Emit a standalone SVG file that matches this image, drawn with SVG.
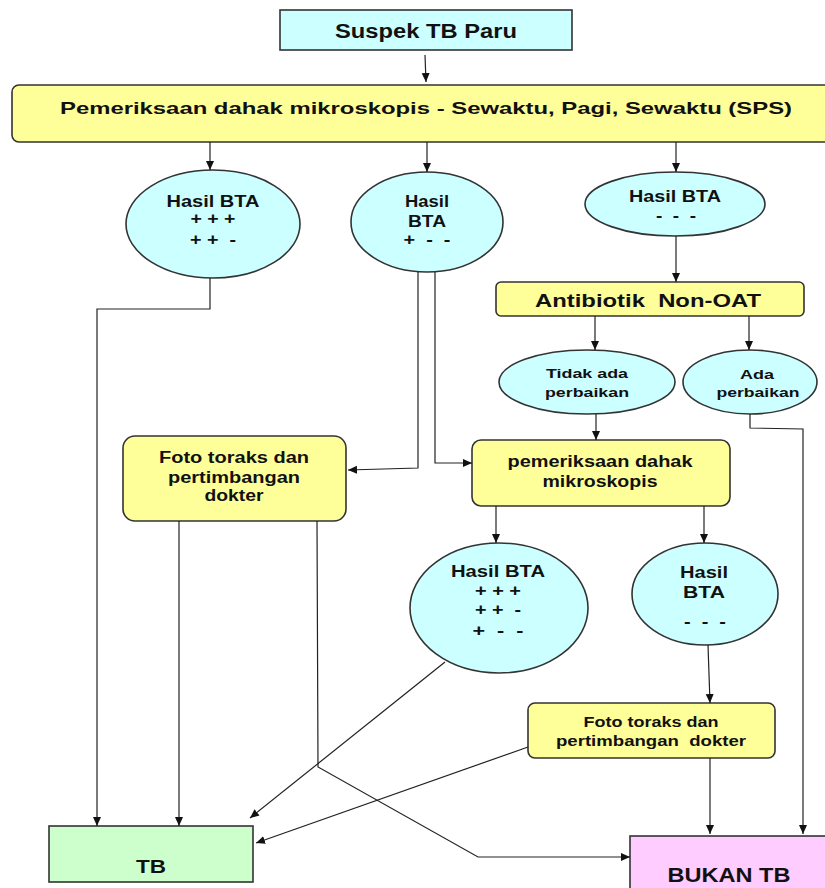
<svg xmlns="http://www.w3.org/2000/svg" width="825" height="888" viewBox="0 0 825 888">
<style>
  text { font-family: "Liberation Sans", Arial, sans-serif; font-weight: bold; fill: #111; text-anchor: middle; white-space: pre; }
  .box { stroke: #333; stroke-width: 1.6; }
  .cyan { fill: #ccffff; }
  .yellow { fill: #ffff99; }
  .green { fill: #ccffcc; }
  .pink { fill: #ffccff; }
  .conn { fill: none; stroke: #222; stroke-width: 1.2; }
</style>
<defs>
  <marker id="arr" markerWidth="10" markerHeight="10" refX="9" refY="5" orient="auto" markerUnits="userSpaceOnUse">
    <path d="M0,1 L9,5 L0,9 z" fill="#111"/>
  </marker>
</defs>
<rect width="825" height="888" fill="#ffffff"/>

<g id="suspek">
  <rect class="box cyan" x="280" y="10" width="292" height="40"/>
  <text x="426" y="38" font-size="20" textLength="182" lengthAdjust="spacingAndGlyphs">Suspek TB Paru</text>
</g>
<g id="pemeriksaan-sps">
  <rect class="box yellow" x="12" y="85" width="830" height="57" rx="7"/>
  <text x="426" y="114" font-size="17" textLength="732" lengthAdjust="spacingAndGlyphs">Pemeriksaan dahak mikroskopis - Sewaktu, Pagi, Sewaktu (SPS)</text>
</g>
<g id="hasil-1">
  <ellipse class="box cyan" cx="213" cy="224" rx="87" ry="54"/>
  <text x="213" y="207" font-size="16" textLength="93" lengthAdjust="spacingAndGlyphs">Hasil BTA</text>
  <text x="213" y="224" font-size="16" textLength="45" lengthAdjust="spacingAndGlyphs">+ + +</text>
  <text x="213" y="245" font-size="16" textLength="46" lengthAdjust="spacingAndGlyphs">+ +  -</text>
</g>
<g id="hasil-2">
  <ellipse class="box cyan" cx="427" cy="222" rx="76" ry="50"/>
  <text x="427" y="207" font-size="16" textLength="44" lengthAdjust="spacingAndGlyphs">Hasil</text>
  <text x="427" y="227" font-size="16" textLength="38" lengthAdjust="spacingAndGlyphs">BTA</text>
  <text x="427" y="245" font-size="16" textLength="47" lengthAdjust="spacingAndGlyphs">+  -  -</text>
</g>
<g id="hasil-3">
  <ellipse class="box cyan" cx="675" cy="204" rx="90" ry="32"/>
  <text x="675" y="202" font-size="16" textLength="92" lengthAdjust="spacingAndGlyphs">Hasil BTA</text>
  <text x="676" y="221" font-size="16" textLength="40" lengthAdjust="spacingAndGlyphs">-  -  -</text>
</g>
<g id="antibiotik">
  <rect class="box yellow" x="496" y="282" width="308" height="34" rx="5"/>
  <text x="648" y="307" font-size="19" textLength="226" lengthAdjust="spacingAndGlyphs">Antibiotik  Non-OAT</text>
</g>
<g id="tidak-ada">
  <ellipse class="box cyan" cx="587" cy="382" rx="88" ry="32"/>
  <text x="587" y="378" font-size="13" textLength="82" lengthAdjust="spacingAndGlyphs">Tidak ada</text>
  <text x="587" y="397" font-size="13" textLength="84" lengthAdjust="spacingAndGlyphs">perbaikan</text>
</g>
<g id="ada">
  <ellipse class="box cyan" cx="750" cy="382" rx="67" ry="32"/>
  <text x="757" y="379" font-size="13" textLength="34" lengthAdjust="spacingAndGlyphs">Ada</text>
  <text x="758" y="397" font-size="13" textLength="83" lengthAdjust="spacingAndGlyphs">perbaikan</text>
</g>
<g id="foto-1">
  <rect class="box yellow" x="123" y="436" width="223" height="85" rx="12"/>
  <text x="234" y="463" font-size="16" textLength="150" lengthAdjust="spacingAndGlyphs">Foto toraks dan</text>
  <text x="234" y="483" font-size="16" textLength="132" lengthAdjust="spacingAndGlyphs">pertimbangan</text>
  <text x="234" y="501" font-size="16" textLength="59" lengthAdjust="spacingAndGlyphs">dokter</text>
</g>
<g id="pemeriksaan-2">
  <rect class="box yellow" x="472" y="440" width="258" height="66" rx="9"/>
  <text x="600" y="467" font-size="17" textLength="185" lengthAdjust="spacingAndGlyphs">pemeriksaan dahak</text>
  <text x="600" y="487" font-size="17" textLength="115" lengthAdjust="spacingAndGlyphs">mikroskopis</text>
</g>
<g id="hasil-4">
  <ellipse class="box cyan" cx="499" cy="608" rx="89" ry="65"/>
  <text x="498" y="577" font-size="16" textLength="94" lengthAdjust="spacingAndGlyphs">Hasil BTA</text>
  <text x="498" y="596" font-size="16" textLength="46" lengthAdjust="spacingAndGlyphs">+ + +</text>
  <text x="498" y="615" font-size="16" textLength="46" lengthAdjust="spacingAndGlyphs">+ +  -</text>
  <text x="498" y="636" font-size="16" textLength="51" lengthAdjust="spacingAndGlyphs">+  -  -</text>
</g>
<g id="hasil-5">
  <ellipse class="box cyan" cx="705" cy="594" rx="73" ry="51"/>
  <text x="704" y="578" font-size="16" textLength="48" lengthAdjust="spacingAndGlyphs">Hasil</text>
  <text x="704" y="598" font-size="16" textLength="42" lengthAdjust="spacingAndGlyphs">BTA</text>
  <text x="705" y="627" font-size="16" textLength="42" lengthAdjust="spacingAndGlyphs">-  -  -</text>
</g>
<g id="foto-2">
  <rect class="box yellow" x="528" y="703" width="247" height="55" rx="7"/>
  <text x="651" y="727" font-size="14" textLength="135" lengthAdjust="spacingAndGlyphs">Foto toraks dan</text>
  <text x="651" y="746" font-size="14" textLength="190" lengthAdjust="spacingAndGlyphs">pertimbangan  dokter</text>
</g>
<g id="tb">
  <rect class="box green" x="49" y="826" width="204" height="56"/>
  <text x="151" y="873" font-size="19" textLength="30" lengthAdjust="spacingAndGlyphs">TB</text>
</g>
<g id="bukan-tb">
  <rect class="box pink" x="630" y="836" width="210" height="60"/>
  <text x="729" y="882" font-size="20" textLength="123" lengthAdjust="spacingAndGlyphs">BUKAN TB</text>
</g>

<g id="connectors">
  <path class="conn" d="M425,55 L426,82" marker-end="url(#arr)"/>
  <path class="conn" d="M210,142 L210,170" marker-end="url(#arr)"/>
  <path class="conn" d="M427,142 L427,172" marker-end="url(#arr)"/>
  <path class="conn" d="M676,142 L676,172" marker-end="url(#arr)"/>
  <path class="conn" d="M676,236 L676,282" marker-end="url(#arr)"/>
  <path class="conn" d="M595,316 L595,350" marker-end="url(#arr)"/>
  <path class="conn" d="M749,316 L749,350" marker-end="url(#arr)"/>
  <path class="conn" d="M596,414 L596,440" marker-end="url(#arr)"/>
  <path class="conn" d="M210,278 L210,309 L97,309 L97,826" marker-end="url(#arr)"/>
  <path class="conn" d="M418,272 L418,468 L348,470" marker-end="url(#arr)"/>
  <path class="conn" d="M435,272 L435,463 L472,463" marker-end="url(#arr)"/>
  <path class="conn" d="M496,506 L496,543" marker-end="url(#arr)"/>
  <path class="conn" d="M704,506 L704,543" marker-end="url(#arr)"/>
  <path class="conn" d="M708,645 L710,703" marker-end="url(#arr)"/>
  <path class="conn" d="M179,521 L179,826" marker-end="url(#arr)"/>
  <path class="conn" d="M317,521 L318,767 L478,857 L630,857" marker-end="url(#arr)"/>
  <path class="conn" d="M445,662 L250,818" marker-end="url(#arr)"/>
  <path class="conn" d="M528,747 L256,843" marker-end="url(#arr)"/>
  <path class="conn" d="M710,758 L710,834" marker-end="url(#arr)"/>
  <path class="conn" d="M750,414 L750,428 L803,429 L803,834" marker-end="url(#arr)"/>
</g>
</svg>
